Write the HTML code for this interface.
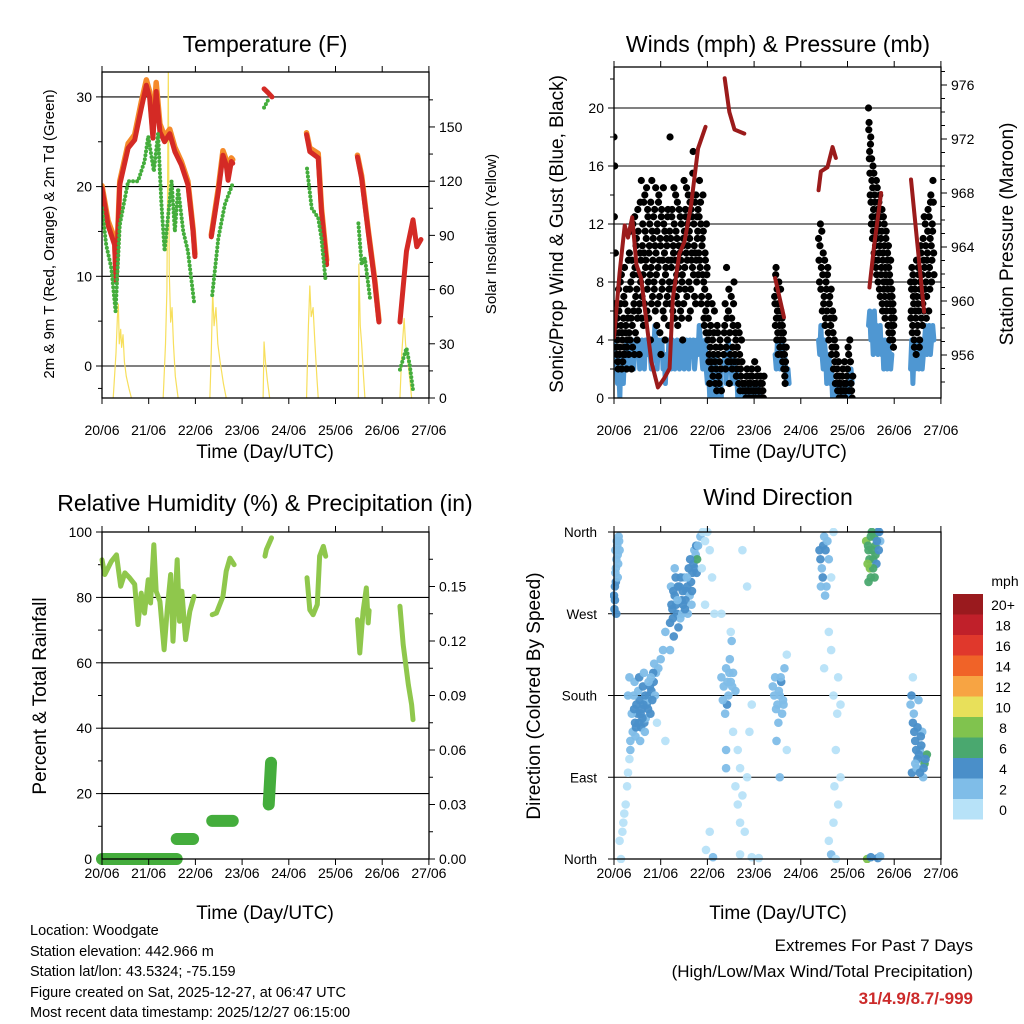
<!DOCTYPE html>
<html><head><meta charset="utf-8">
<style>
html,body{margin:0;padding:0;background:#fff;}
svg{display:block;font-family:"Liberation Sans",sans-serif;}
</style></head>
<body>
<svg id="chart" width="1024" height="1024" viewBox="0 0 1024 1024">
<rect width="1024" height="1024" fill="#fff"/>
<g id="layer"></g>
<text x="265" y="52" font-size="23" text-anchor="middle">Temperature (F)</text>
<text x="778" y="52" font-size="23" text-anchor="middle">Winds (mph) &amp; Pressure (mb)</text>
<text x="265" y="511" font-size="23" text-anchor="middle">Relative Humidity (%) &amp; Precipitation (in)</text>
<text x="778" y="505" font-size="23" text-anchor="middle">Wind Direction</text>
<text x="265" y="458" font-size="19" text-anchor="middle">Time (Day/UTC)</text>
<text x="778" y="458" font-size="19" text-anchor="middle">Time (Day/UTC)</text>
<text x="265" y="919" font-size="19" text-anchor="middle">Time (Day/UTC)</text>
<text x="778" y="919" font-size="19" text-anchor="middle">Time (Day/UTC)</text>
<text transform="translate(54,234) rotate(-90)" font-size="15" text-anchor="middle">2m &amp; 9m T (Red, Orange) &amp; 2m Td (Green)</text>
<text transform="translate(496,234) rotate(-90)" font-size="15" text-anchor="middle">Solar Insolation (Yellow)</text>
<text transform="translate(563,234) rotate(-90)" font-size="19" text-anchor="middle">Sonic/Prop Wind &amp; Gust (Blue, Black)</text>
<text transform="translate(1013,234) rotate(-90)" font-size="19" text-anchor="middle">Station Pressure (Maroon)</text>
<text transform="translate(46,696) rotate(-90)" font-size="19" text-anchor="middle">Percent &amp; Total Rainfall</text>
<text transform="translate(540,696) rotate(-90)" font-size="19" text-anchor="middle">Direction (Colored By Speed)</text>
<g font-size="14.5">
<text x="30" y="935">Location: Woodgate</text>
<text x="30" y="956">Station elevation: 442.966 m</text>
<text x="30" y="976">Station lat/lon: 43.5324; -75.159</text>
<text x="30" y="997">Figure created on Sat, 2025-12-27, at 06:47 UTC</text>
<text x="30" y="1017">Most recent data timestamp: 2025/12/27 06:15:00</text>
</g>
<g font-size="17" text-anchor="end">
<text x="973" y="951">Extremes For Past 7 Days</text>
<text x="973" y="977">(High/Low/Max Wind/Total Precipitation)</text>
<text x="973" y="1004" font-weight="bold" fill="#cc2a2a">31/4.9/8.7/-999</text>
</g>
</svg>
<script>
const dayLabels=["20/06","21/06","22/06","23/06","24/06","25/06","26/06","27/06"];
const tempTicks=[0,10,20,30];
const solarTicks=[0,30,60,90,120,150];
const windTicks=[0,4,8,12,16,20];
const pressTicks=[956,960,964,968,972,976];
const rhTicks=[0,20,40,60,80,100];
const rainTicks=["0.00","0.03","0.06","0.09","0.12","0.15"];
const dirLabels=["North","East","South","West","North"];
const speedLabels=["0","2","4","6","8","10","12","14","16","18","20+"];
const speedColors=["#b7e2f8","#7fbde8","#4a8fc9","#4aa86f","#80c34e","#e8e05a","#f7a443","#f06328","#e0382c","#c0202a","#9a1a1e"];

const tempRed=[
[[0,19.8],[0.13,15.7],[0.27,13.5],[0.3,9.4],[0.38,20.2],[0.56,24.3],[0.7,25.2],[0.84,28.7],[0.95,31.3],[1.02,29.9],[1.09,25.4],[1.16,30.6],[1.24,26.1],[1.34,25.0],[1.45,25.9],[1.56,23.9],[1.7,22.4],[1.84,20.2],[1.95,15.0],[1.99,12.2]],
[[2.34,14.4],[2.49,19.4],[2.59,23.5],[2.66,22.4],[2.7,20.7],[2.77,22.8],[2.8,22.6]],
[[3.47,30.9],[3.55,30.5],[3.64,30.0]],
[[4.38,25.8],[4.45,23.9],[4.63,23.2],[4.7,17.2],[4.81,11.3]],
[[5.47,23.3],[5.56,20.9],[5.7,15.0],[5.84,9.4],[5.93,4.9]],
[[6.38,4.9],[6.52,12.8],[6.66,16.3],[6.74,13.3],[6.83,14.1]]];
const tempOrange=[
[[0,20.1],[0.13,16.2],[0.27,14.2],[0.3,10.0],[0.38,20.6],[0.56,24.8],[0.7,25.8],[0.84,29.4],[0.95,31.9],[1.02,30.6],[1.09,26.0],[1.16,31.6],[1.24,27.0],[1.34,25.6],[1.45,26.4],[1.56,24.4],[1.7,22.8],[1.84,20.6],[1.95,15.3],[1.99,12.5]],
[[2.34,14.6],[2.49,19.8],[2.59,24.0],[2.66,23.0],[2.7,21.2],[2.77,23.2],[2.8,23.0]],
[[4.38,26.0],[4.45,24.3],[4.63,23.7],[4.7,17.6],[4.81,11.8]],
[[5.47,23.5],[5.56,21.2],[5.7,15.2],[5.84,9.6],[5.93,5.1]]];
const tempDew=[
[[0,17.6],[0.09,13.5],[0.2,10.9],[0.29,6.1],[0.38,15.7],[0.56,20.6],[0.77,20.6],[0.91,22.8],[0.99,25.6],[1.11,21.7],[1.2,25.9],[1.27,18.3],[1.34,12.8],[1.49,20.6],[1.56,15.0],[1.63,19.8],[1.74,15.0],[1.84,12.8],[1.97,7.2]],
[[2.36,7.9],[2.49,14.2],[2.63,18.0],[2.79,20.2]],
[[3.47,28.8],[3.56,29.7]],
[[4.39,22.0],[4.49,17.6],[4.63,16.5],[4.7,14.2],[4.79,9.4]],
[[5.49,15.9],[5.56,11.3],[5.63,12.0],[5.74,7.5]],
[[6.38,-0.4],[6.52,2.0],[6.59,0.1],[6.66,-2.7]]];
const solar=[
[[0.24,0],[0.3,25],[0.33,45],[0.35,52],[0.37,30],[0.4,38],[0.42,28],[0.45,35],[0.48,20],[0.52,12],[0.58,5],[0.63,0]],
[[1.31,0],[1.36,30],[1.39,60],[1.42,181],[1.44,70],[1.47,42],[1.5,50],[1.53,30],[1.57,12],[1.63,0]],
[[2.31,0],[2.34,25],[2.37,59],[2.4,40],[2.44,50],[2.48,30],[2.53,20],[2.6,8],[2.66,0]],
[[3.45,0],[3.47,31],[3.5,20],[3.54,10],[3.59,0]],
[[4.38,0],[4.42,40],[4.45,62],[4.48,45],[4.52,50],[4.56,30],[4.6,12],[4.63,0]],
[[5.49,0],[5.5,74],[5.53,40],[5.56,30],[5.6,12],[5.63,0]],
[[6.38,0],[6.42,25],[6.47,44],[6.5,30],[6.55,20],[6.6,8],[6.63,0]]];

const gustStarts=[0,2.05,2.35,2.8,3.44,4.38,4.85,5.45,6.35];
const gustSteps=[0.015,0.02,0.02,0.025,0.015,0.02,0.025,0.012,0.015];
const gustVals=[
[18,16,10,5,3,4,2,6,3,8,5,2,4,3,7,9,3,5,2,4,6,3,10,4,8,2,5,12,6,3,9,7,11,4,13,6,3,10,8,15,7,12,5,10,14,9,11,6,13,8,10,12,4,9,15,7,11,8,13,6,10,5,12,9,14,7,11,3,13,8,6,12,10,4,9,11,7,13,5,8,18,11,9,13,6,10,12,8,14,7,11,5,9,13,10,6,12,8,4,11,15,9,13,10,7,12,14,8,11,6,13,10,9,17,12,7,10,14,8,11,13,10,15,9,12,7,11,14,8,5,10,6,12,9,4,7,3],
[1,5,2,4,3,6,1,2,5,3,1,4,2],
[3,5,2,9,4,6,1,3,7,2,5,8,3,4,2,5,1,3,2,4,1],
[1,0,2,1,0,1,2,0,1,0,1,2,0,1,0,1,0],
[7,5,9,4,6,3,8,5,4,6,3,5,4,2,3,1,2],
[11,8,12,9,6,10,7,5,8,6,9,4,7,5,3,6,2,4,1,3,2,1,0,1],
[1,0,2,1,0,1,2,3,4,1,0],
[20,19,17,14,18,12,15,11,16,13,10,14,12,9,15,11,13,8,12,10,14,7,11,9,13,6,10,8,12,7,9,11,6,8,10,5,9,7,4,8,6,5,7,4,6,5],
[8,6,9,5,7,4,8,6,3,7,5,9,6,4,8,10,7,5,11,6,9,12,8,7,10,13,6,9,11,14,8,12,15,10]];
const gustVals2=[
[12.5,6.5,4.5,3.5,5.5,2.5,7.5,4.5,3.5,6.5,8.5,4.5,2.5,5.5,3.5,6.5,4.5,7.5,3.5,5.5,9.5,4.5,7.5,11.5,5.5,9.5,3.5,8.5,6.5,12.5,4.5,10.5,7.5,5.5,11.5,8.5,6.5,13.5,9.5,5.5,10.5,8.5,13.5,6.5,11.5,9.5,14.5,7.5,12.5,5.5,10.5,8.5,13.5,6.5,11.5,9.5,12.5,7.5,10.5,14.5,8.5,11.5,6.5,13.5,9.5,4.5,10.5,12.5,7.5,9.5,14.5,5.5,11.5,8.5,6.5,10.5,12.5,9.5,7.5,11.5,6.5,9.5,12.5,7.5,10.5,14.5,5.5,9.5,11.5,8.5,13.5,6.5,10.5,7.5,12.5,9.5,5.5,8.5,10.5,6.5,11.5,7.5,12.5,14.5,9.5,10.5,5.5,11.5,13.5,7.5,9.5,12.5,15.5,8.5,10.5,13.5,6.5,9.5,12.5,11.5,8.5,12.5,9.5,13.5,6.5,10.5,8.5,11.5,5.5,7.5,9.5,4.5,8.5,6.5,5.5,2.5,4.5],
[3.5,2.5,6.5,1.5,4.5,2.5,3.5,0.5,4.5,1.5,2.5,3.5,0.5],
[4.5,6.5,3.5,5.5,2.5,7.5,4.5,2.5,5.5,3.5,6.5,2.5,4.5,1.5,3.5,2.5,4.5,0.5,1.5,2.5,0.5],
[0.5,1.5,0.5,0.5,1.5,0.5,1.5,0.5,2.5,0.5,1.5,0.5,0.5,1.5,0.5,0.5,1.5],
[6.5,8.5,5.5,7.5,4.5,6.5,5.5,3.5,7.5,4.5,5.5,2.5,4.5,3.5,1.5,2.5,3.5],
[9.5,10.5,7.5,11.5,8.5,6.5,9.5,5.5,7.5,8.5,4.5,6.5,5.5,7.5,3.5,4.5,5.5,2.5,3.5,1.5,0.5,2.5,1.5,0.5],
[0.5,1.5,0.5,2.5,0.5,1.5,3.5,0.5,2.5,0.5,1.5],
[18.5,16.5,15.5,17.5,13.5,16.5,12.5,14.5,11.5,15.5,9.5,13.5,10.5,12.5,8.5,14.5,9.5,11.5,13.5,7.5,10.5,12.5,8.5,11.5,6.5,9.5,12.5,7.5,10.5,5.5,8.5,11.5,6.5,9.5,7.5,10.5,4.5,8.5,6.5,9.5,5.5,7.5,4.5,6.5,3.5,5.5],
[5.5,7.5,4.5,8.5,6.5,3.5,7.5,5.5,9.5,4.5,6.5,8.5,3.5,7.5,10.5,5.5,8.5,6.5,9.5,12.5,7.5,10.5,5.5,9.5,11.5,8.5,12.5,7.5,13.5,10.5,9.5,11.5,13.5,8.5]];
const windStarts=[0,2.05,2.35,2.8,3.45,4.38,4.85,5.45,6.35];
const windSteps=[0.025,0.025,0.025,0.04,0.025,0.025,0.025,0.025,0.025];
const windVals=[
[4,2,3,1,2,0,3,2,1,3,2,4,3,2,3,4,3,2,4,3,3,4,2,3,4,3,2,4,3,3,4,3,2,4,3,5,3,2,4,3,3,4,2,3,1,3,2,4,3,2,4,3,2,3,4,3,2,3,4,3,2,3,4,3,2,4,3,3,4,2,3,4,3,5,4,3,2,3,4,2,1,2,0],
[1,3,0,2,1,3,0,1,0,2,0],
[2,3,1,3,4,2,3,1,2,3,1,2,0,1,0,1,0],
[0,1,0,0,1,0,0,1,0,0,0],
[3,2,4,3,2,3,4,2,3,2,1,2,1],
[4,3,5,3,2,4,3,1,2,3,1,2,0,1,0,1,0,0,0],
[0,1,0,0,1,0,1,0,1,2,1],
[5,6,4,5,3,6,4,5,3,4,5,3,4,2,4,3,2,4,3,2,3],
[2,4,1,3,2,4,3,2,3,4,2,3,4,5,3,4,5,3,4,5,4]];
const pressure=[
[[0,957.3],[0.12,962.1],[0.23,965.6],[0.3,964.7],[0.39,966.2],[0.48,962.7],[0.58,961.7],[0.8,955.5],[0.94,953.6],[1.08,954.3],[1.19,955.0],[1.26,960.2],[1.4,963.5],[1.51,964.4],[1.65,967.1],[1.8,971.3],[1.96,972.9]],
[[2.37,976.5],[2.47,974.0],[2.58,972.7],[2.79,972.4]],
[[3.45,961.7],[3.64,958.8]],
[[4.38,968.2],[4.43,969.6],[4.57,969.9],[4.68,971.4],[4.75,970.6]],
[[5.47,961.0],[5.57,964.1],[5.72,968.0]],
[[6.36,969.0],[6.5,964.1],[6.64,959.2]]];

const rh=[
[[0,91.5],[0.06,87],[0.2,91],[0.31,93],[0.4,83.4],[0.49,87.5],[0.59,86],[0.7,84],[0.77,71.7],[0.84,81.3],[0.91,75.2],[0.99,85.4],[1.04,78.3],[1.11,96.1],[1.16,81.9],[1.24,78.8],[1.33,64],[1.4,76.8],[1.47,87],[1.52,66.6],[1.61,91.5],[1.66,72.7],[1.71,81.9],[1.79,67.1],[1.88,75.7],[1.97,80.3]],
[[2.36,74.7],[2.45,75.2],[2.59,80.3],[2.66,88],[2.74,92],[2.83,90]],
[[3.49,92.6],[3.52,94.6],[3.63,98.2]],
[[4.39,86],[4.45,76.2],[4.52,74.7],[4.61,77.8],[4.66,92.6],[4.74,95.6],[4.79,92.6]],
[[5.47,73.2],[5.52,63],[5.59,75.7],[5.66,82.9],[5.7,72.2],[5.72,76]],
[[6.38,77.3],[6.45,65.5],[6.56,53.3],[6.63,47.2],[6.66,42.6]]];
const rain=[
[[0,0],[1.6,0]],
[[1.6,0.011],[1.95,0.011]],
[[2.36,0.011]],
[[2.36,0.021],[2.8,0.021]],
[[3.5,0.021]],
[[3.57,0.03],[3.62,0.053]]];

const dirPts=[[0.0,290,4],[0.02,300,5],[0.03,315,3],[0.05,330,3],[0.07,345,2],[0.1,355,3],[0.04,320,2],[0.08,335,3],[0.01,275,5],[0.06,350,3],[0.09,325,2],[0.12,340,2],
[0.02,285,4],[0.04,305,4],[0.05,270,4],[0.08,310,3],[0.11,350,2],[0.03,340,3],
[0.12,20,1],[0.15,0,1],[0.2,40,1],[0.25,60,1],[0.28,80,1],[0.3,95,1],[0.33,110,1],[0.22,50,1],[0.35,120,2],[0.18,30,1],
[0.35,130,2],[0.4,140,3],[0.45,150,4],[0.5,160,5],[0.55,175,4],[0.6,165,5],[0.65,150,4],[0.7,170,5],[0.75,180,4],[0.8,185,5],[0.85,195,4],[0.9,205,3],[0.95,210,3],[1.0,220,2],[0.42,180,3],[0.48,170,4],[0.58,145,4],[0.68,155,3],[0.78,160,4],[0.52,185,3],[0.62,190,4],[0.72,175,3],[0.3,180,2],[0.33,200,2],[0.38,160,2],[0.88,180,2],[1.05,230,2],[1.1,250,3],[1.1,130,1],[0.92,150,1],
[0.43,165,4],[0.47,145,4],[0.53,150,5],[0.57,160,4],[0.63,170,4],[0.67,180,5],[0.73,165,4],[0.77,190,4],[0.82,175,4],[0.46,135,3],[0.56,130,3],[0.66,140,3],[0.44,195,3],[0.54,200,4],[0.64,205,3],[0.74,195,3],[0.84,205,4],[0.86,215,3],[0.79,200,3],[0.61,155,5],
[1.2,260,4],[1.25,275,5],[1.3,290,5],[1.35,270,4],[1.4,300,4],[1.45,285,5],[1.5,310,3],[1.55,295,4],[1.6,320,4],[1.65,305,5],[1.7,325,4],[1.75,335,3],[1.22,300,3],[1.28,245,4],[1.32,310,5],[1.42,265,3],[1.48,280,4],[1.58,270,3],[1.62,290,3],[1.68,315,4],[1.72,340,3],[1.78,330,6],[1.2,230,3],[1.3,320,3],
[1.23,280,4],[1.27,295,5],[1.33,280,4],[1.37,300,5],[1.43,310,4],[1.47,295,4],[1.53,285,4],[1.57,300,4],[1.63,330,4],[1.67,295,4],[1.73,320,4],[1.77,315,4],[1.26,265,4],[1.36,285,3],[1.46,270,3],[1.56,310,3],[1.66,280,3],[1.76,345,4],[1.52,275,4],[1.38,255,4],
[1.8,345,3],[1.85,355,2],[1.9,360,1],[1.95,350,1],[2.0,360,1],[2.05,340,1],[1.88,320,1],[2.1,310,1],[2.15,270,1],[1.95,280,1],[2.05,30,1],[1.97,10,1],[2.12,2,2],
[2.3,200,3],[2.35,190,3],[2.4,210,3],[2.45,180,3],[2.5,195,2],[2.55,205,2],[2.6,185,3],[2.42,170,4],[2.38,160,2],[2.48,220,2],[2.52,240,2],[2.4,100,2],[2.4,120,2],[2.55,140,1],[2.65,120,1],[2.7,100,1],[2.5,250,1],[2.3,270,1],
[2.33,175,3],[2.43,195,3],[2.47,205,3],[2.53,190,3],
[2.6,80,1],[2.65,60,1],[2.7,40,1],[2.75,70,1],[2.85,90,1],[2.9,140,1],[2.95,170,1],[2.8,30,1],[2.7,5,1],[2.95,2,1],[3.1,1,1],[2.85,300,1],[2.75,340,1],
[3.4,190,3],[3.45,200,2],[3.5,170,3],[3.55,180,2],[3.6,160,3],[3.65,210,2],[3.52,150,2],[3.58,195,4],[3.62,175,2],[3.48,130,3],[3.55,90,3],[3.7,225,1],[3.7,120,1],
[3.43,180,3],[3.47,165,3],[3.53,185,3],[3.57,200,3],[3.63,170,3],
[4.4,340,4],[4.45,320,3],[4.5,355,2],[4.55,300,3],[4.6,330,2],[4.65,310,1],[4.7,360,1],[4.48,345,5],[4.52,290,2],
[4.42,330,4],[4.47,310,4],[4.53,340,4],[4.43,300,3],[4.57,350,3],
[4.6,250,1],[4.65,230,1],[4.7,180,1],[4.8,200,1],[4.85,170,1],[4.75,120,1],[4.72,80,1],[4.8,60,1],[4.7,40,1],[4.6,20,1],[4.65,5,3],[4.75,0,1],[4.85,90,1],[4.5,210,1],[4.78,160,1],
[5.4,350,8],[5.45,340,6],[5.5,355,6],[5.55,330,7],[5.6,345,6],[5.65,360,4],[5.7,350,3],[5.48,320,8],[5.58,310,6],[5.52,360,7],[5.62,325,4],[5.45,305,6],[5.42,0,8],[5.5,2,4],[5.65,1,4],[5.7,3,3],
[5.44,345,6],[5.47,330,6],[5.53,340,6],[5.57,355,6],[5.6,335,6],[5.63,350,5],[5.67,340,4],[5.55,320,6],[5.5,310,6],[5.68,360,4],[5.43,325,8],
[6.35,170,3],[6.4,150,4],[6.45,130,4],[6.5,110,4],[6.55,120,3],[6.6,140,3],[6.65,105,6],[6.7,115,6],[6.38,95,4],[6.42,160,2],[6.48,100,3],[6.58,125,4],[6.62,90,2],[6.4,200,1],[6.52,175,2],
[6.37,180,4],[6.43,140,4],[6.47,120,4],[6.53,115,4],[6.57,135,4],[6.63,100,4],[6.67,110,5],[6.45,105,3],[6.55,95,4],[6.5,145,4]];

const NS="http://www.w3.org/2000/svg";
const layer=document.getElementById('layer');
function mk(tag,attrs,parent){const e=document.createElementNS(NS,tag);for(const k in attrs)e.setAttribute(k,attrs[k]);(parent||layer).appendChild(e);return e;}
const DAYW=46.7;
const xL=d=>102+d*DAYW;
const xR=d=>614+d*DAYW;
const yTemp=v=>366-v*8.97;
const ySolar=v=>398-v*1.807;
const yWind=v=>398-v*14.5;
const yPress=v=>355-(v-956)*13.5;
const yRH=v=>859-v*3.27;
const yRain=v=>859-v/0.03*54.5;
const yDir=v=>859-v/360*327;

function frame(x0,x1,y0,y1,name,lblOff){
  const r=mk('rect',{x:x0,y:y0,width:x1-x0,height:y1-y0,fill:'none',stroke:'#000','stroke-width':1.3});
  
  
  for(let i=0;i<dayLabels.length;i++){
    const x=x0+i*DAYW;
    mk('line',{x1:x,x2:x,y1:y1,y2:y1+6,stroke:'#000'});
    mk('line',{x1:x,x2:x,y1:y0,y2:y0-6,stroke:'#000'});
    const t=mk('text',{x:x,y:y1+lblOff,'font-size':14,'text-anchor':'middle'});
    t.textContent=dayLabels[i];
    
    
  }
}
function leftAxis(vals,yf,x0,x1,minor){
  vals.forEach(v=>{
    const y=yf(v);
    mk('line',{x1:x0,x2:x1,y1:y,y2:y,stroke:'#000','stroke-width':1.1});
    mk('line',{x1:x0-6,x2:x0,y1:y,y2:y,stroke:'#000'});
    const t=mk('text',{x:x0-10,y:y+5,'font-size':14,'text-anchor':'end'});
    t.textContent=v;
    
    
  });
  minor.forEach(v=>{const y=yf(v);mk('line',{x1:x0-4,x2:x0,y1:y,y2:y,stroke:'#000'});});
}
function rightAxis(vals,labels,yf,x1,minor){
  vals.forEach((v,i)=>{
    const y=yf(v);
    mk('line',{x1:x1,x2:x1+6,y1:y,y2:y,stroke:'#000'});
    const t=mk('text',{x:x1+10,y:y+5,'font-size':14,'text-anchor':'start'});
    t.textContent=labels[i];
    
    
  });
  minor.forEach(v=>{const y=yf(v);mk('line',{x1:x1,x2:x1+4,y1:y,y2:y,stroke:'#000'});});
}
function line(seg,xf,yf,color,w,name,extra){
  const p=mk('polyline',Object.assign({points:seg.map(q=>xf(q[0])+','+yf(q[1])).join(' '),fill:'none',stroke:color,'stroke-width':w,'stroke-linejoin':'round','stroke-linecap':'round'},extra||{}));
  
  
  return p;
}

/* Panel 1: temperature */
const clip1=mk('clipPath',{id:'c1'});mk('rect',{x:102,y:72,width:327,height:326},clip1);
leftAxis(tempTicks,yTemp,102,429,[-2.5,5,15,25]);
rightAxis(solarTicks,solarTicks,ySolar,429,[15,45,75,105,135,165]);
const g1=mk('g',{'clip-path':'url(#c1)'});
solar.forEach(s=>{g1.appendChild(line(s,xL,ySolar,'#f7df5c',1.2,'solar-line'));});
tempOrange.forEach(s=>{g1.appendChild(line(s,xL,yTemp,'#f58a2a',5.5,'temp-9m-line'));});
tempRed.forEach(s=>{g1.appendChild(line(s,xL,yTemp,'#d42a25',5,'temp-2m-line'));});
tempDew.forEach(s=>{g1.appendChild(line(s,xL,yTemp,'#44ad3c',4,'dewpoint-line',{'stroke-dasharray':'0 4'}));});
frame(102,429,72,398,'temperature-plot-area',37);

/* Panel 2: winds */
const clip2=mk('clipPath',{id:'c2'});mk('rect',{x:614,y:67,width:327,height:331},clip2);
leftAxis(windTicks,yWind,614,941,[2,6,10,14,18,22]);
rightAxis(pressTicks,pressTicks,yPress,941,[954,955,957,958,959,961,962,963,965,966,967,969,970,971,973,974,975,977]);
const g2=mk('g',{'clip-path':'url(#c2)'});
windVals.forEach((vals,si)=>{
  const seg=vals.map((v,i)=>[windStarts[si]+i*windSteps[si],v]);
  g2.appendChild(line(seg,xR,yWind,'#4f97d2',5,'sustained-wind-line'));
});
[gustVals,gustVals2].forEach((arr,ai)=>{
  arr.forEach((vals,si)=>{
    vals.forEach((v,i)=>{
      const c=mk('circle',{cx:xR(gustStarts[si]+(i+ai*0.5)*gustSteps[si]),cy:yWind(v),r:3.6,fill:'#000'},g2);
      
      
    });
  });
});
pressure.forEach(s=>{g2.appendChild(line(s,xR,yPress,'#9b1b1b',4,'pressure-line'));});
frame(614,941,67,398,'winds-plot-area',37);

/* Panel 3: RH */
leftAxis(rhTicks,yRH,102,429,[10,30,50,70,90]);
rightAxis([0,0.03,0.06,0.09,0.12,0.15],rainTicks,yRain,429,[0.015,0.045,0.075,0.105,0.135,0.165]);
rh.forEach(s=>line(s,xL,yRH,'#8fc74c',5,'rh-line'));
rain.forEach(s=>line(s,xL,yRain,'#44ad3c',12,'rain-line'));
frame(102,429,532,859,'rh-plot-area',19);

/* Panel 4: wind direction */
[0,90,180,270,360].forEach((v,i)=>{
  const y=yDir(v);
  mk('line',{x1:614,x2:941,y1:y,y2:y,stroke:'#000','stroke-width':1.1});
  mk('line',{x1:608,x2:614,y1:y,y2:y,stroke:'#000'});
  const t=mk('text',{x:597,y:y+5,'font-size':13.5,'text-anchor':'end'});
  t.textContent=dirLabels[i];
  
  
});
const clip4=mk('clipPath',{id:'c4'});mk('rect',{x:610,y:528,width:335,height:335},clip4);
const g4=mk('g',{'clip-path':'url(#c4)'});
dirPts.forEach(p=>{
  const idx=Math.min(10,Math.floor(p[2]/2));
  const c=mk('circle',{cx:xR(p[0]),cy:yDir(p[1]),r:4.3,fill:speedColors[idx],opacity:0.95},g4);
  
  
});
frame(614,941,532,859,'direction-plot-area',19);

/* Legend */
const lg=mk('g',{});


const lt=mk('text',{x:1005,y:586,'font-size':14,'text-anchor':'middle'},lg);lt.textContent='mph';
speedLabels.forEach((s,i)=>{
  const j=10-i;
  const y=594+j*20.5;
  const r=mk('rect',{x:953,y:y,width:30,height:20.5,fill:speedColors[i]},lg);
  
  
  const t=mk('text',{x:1003,y:y+16,'font-size':14,'text-anchor':'middle'},lg);
  t.textContent=s;
  
  
});
</script>
</body></html>
